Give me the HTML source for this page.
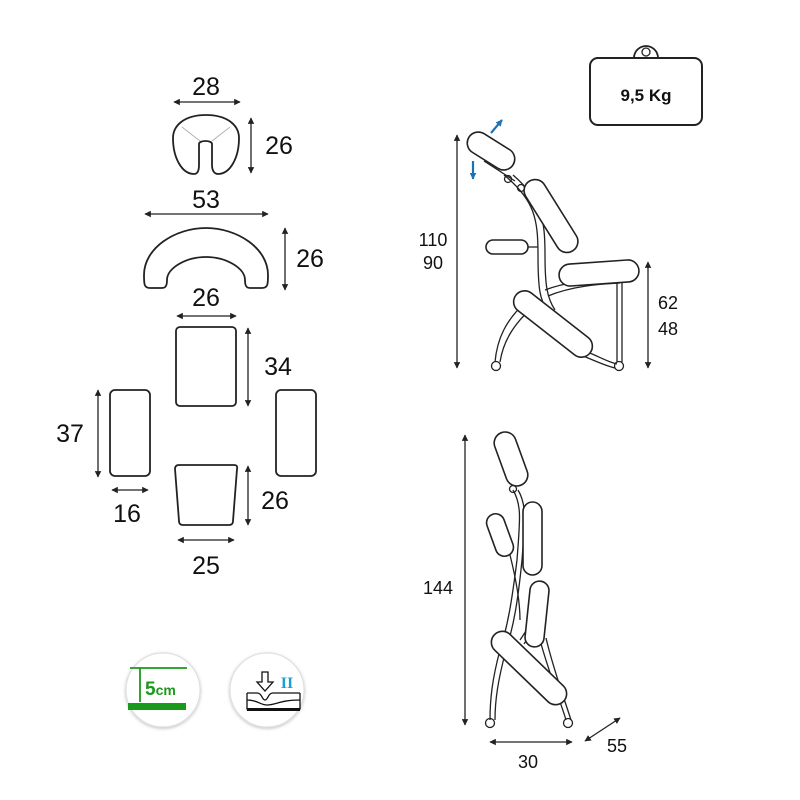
<!DOCTYPE html>
<html><head><meta charset="utf-8"><style>
html,body{margin:0;padding:0;background:#fff;}
svg{display:block;}
text{font-family:"Liberation Sans",sans-serif;fill:#111;}
</style></head><body>
<svg width="800" height="800" viewBox="0 0 800 800" xmlns="http://www.w3.org/2000/svg">
<defs>
<marker id="a" viewBox="0 0 10 10" refX="9" refY="5" markerWidth="5" markerHeight="5" orient="auto-start-reverse"><path d="M0,0 L10,5 L0,10 z" fill="#222"/></marker>
<marker id="b" viewBox="0 0 10 10" refX="9" refY="5" markerWidth="3" markerHeight="3" orient="auto"><path d="M0,0 L10,5 L0,10 z" fill="#1a72b8"/></marker>
<filter id="sh" x="-20%" y="-20%" width="140%" height="140%"><feDropShadow dx="0" dy="1" stdDeviation="1.5" flood-color="#000" flood-opacity="0.25"/></filter>
</defs>
<g stroke="#222" stroke-width="1.3" fill="none">
<line x1="174" y1="102" x2="240" y2="102" marker-start="url(#a)" marker-end="url(#a)"/>
<line x1="251" y1="118" x2="251" y2="173" marker-start="url(#a)" marker-end="url(#a)"/>
<line x1="145" y1="214" x2="268" y2="214" marker-start="url(#a)" marker-end="url(#a)"/>
<line x1="285" y1="228" x2="285" y2="290" marker-start="url(#a)" marker-end="url(#a)"/>
<line x1="177" y1="316" x2="236" y2="316" marker-start="url(#a)" marker-end="url(#a)"/>
<line x1="248" y1="328" x2="248" y2="406" marker-start="url(#a)" marker-end="url(#a)"/>
<line x1="98" y1="390" x2="98" y2="477" marker-start="url(#a)" marker-end="url(#a)"/>
<line x1="112" y1="490" x2="148" y2="490" marker-start="url(#a)" marker-end="url(#a)"/>
<line x1="248" y1="466" x2="248" y2="525" marker-start="url(#a)" marker-end="url(#a)"/>
<line x1="178" y1="540" x2="234" y2="540" marker-start="url(#a)" marker-end="url(#a)"/>
<path d="M206,115 C185,115 173,125 173,138 C173,158 182,174 194,174 C198,174 199,170 199,165 L199,144 C199,140 212,140 212,144 L212,165 C212,170 214,174 218,174 C230,174 239,158 239,138 C239,125 227,115 206,115 Z" stroke-width="1.8"/>
<path d="M182,127 L200,141 M230,127 L212,141" stroke="#aaa" stroke-width="0.8"/>
<path d="M150,288 C144,288 144,284 144,275 C144,248 175,228 206,228 C237,228 268,248 268,275 C268,284 268,288 262,288 L250,288 C246,288 245,285 245,280 C245,268 226,257 206,257 C186,257 167,268 167,280 C167,285 166,288 162,288 Z" stroke-width="1.8"/>
<rect x="176" y="327" width="60" height="79" rx="4" stroke-width="1.8"/>
<rect x="110" y="390" width="40" height="86" rx="5" stroke-width="1.8"/>
<rect x="276" y="390" width="40" height="86" rx="5" stroke-width="1.8"/>
<path d="M179,465 L234,465 Q238,465 237,469 L233,521 Q233,525 229,525 L183,525 Q179,525 179,521 L175,469 Q175,465 179,465 Z" stroke-width="1.8"/>

<path d="M634,58 A12,12 0 0 1 658,58" stroke-width="1.8"/>
<circle cx="646" cy="52" r="4" stroke-width="1.3"/>
<rect x="590" y="58" width="112" height="67" rx="8" stroke-width="2"/>

<line x1="457" y1="135" x2="457" y2="368" marker-start="url(#a)" marker-end="url(#a)"/>
<line x1="648" y1="262" x2="648" y2="368" marker-start="url(#a)" marker-end="url(#a)"/>
<path d="M484,161 L515,181" />
<path d="M504,175 C535,200 538,220 538,255 C538,290 540,300 548,312" />
<path d="M513,175 C542,200 545,220 545,255 C545,285 547,298 555,310" />
<path d="M528,247 L538,247"/>
<path d="M528,300 C505,320 497,340 495,362"/>
<path d="M535,305 C512,325 503,343 500,362"/>
<path d="M545,290 C570,280 600,280 624,278"/>
<path d="M548,296 C572,286 600,284 620,283"/>
<line x1="617" y1="282" x2="617" y2="362"/><line x1="622" y1="280" x2="622" y2="362"/>
<path d="M585,351 C600,357 608,362 617,364"/>
<path d="M583,356 C598,362 606,366 615,368"/>
<circle cx="496" cy="366" r="4.5"/><circle cx="619" cy="366" r="4.5"/>
<circle cx="508" cy="179" r="3.5"/><circle cx="521" cy="188" r="3.5"/>
<g fill="#fff" stroke-width="1.6">
<rect x="-26" y="-11" width="52" height="22" rx="11" transform="translate(491,151) rotate(32)"/>
<rect x="-41" y="-11" width="82" height="22" rx="11" transform="translate(551,216) rotate(58)"/>
<rect x="486" y="240" width="42" height="14" rx="7"/>
<rect x="-40" y="-11" width="80" height="22" rx="11" transform="translate(599,273) rotate(-4)"/>
<rect x="-47" y="-11" width="94" height="22" rx="11" transform="translate(553,324) rotate(38)"/>
</g>

<line x1="465" y1="435" x2="465" y2="725" marker-start="url(#a)" marker-end="url(#a)"/>
<line x1="490" y1="742" x2="572" y2="742" marker-start="url(#a)" marker-end="url(#a)"/>
<line x1="585" y1="741" x2="620" y2="718" marker-start="url(#a)" marker-end="url(#a)"/>
<path d="M513,490 C522,505 520,520 517,560 C512,600 508,625 500,650 C492,680 490,700 490,720"/>
<path d="M518,490 C527,505 525,520 522,560 C518,600 514,625 506,650 C498,680 495,700 495,720"/>
<path d="M510,555 C515,575 520,600 520,620"/>
<path d="M520,640 L528,628 M524,644 L532,632"/>
<path d="M540,640 C548,670 560,700 566,720"/>
<path d="M546,638 C553,668 564,698 571,720"/>
<circle cx="490" cy="723" r="4.5"/><circle cx="568" cy="723" r="4.5"/>
<circle cx="513" cy="489" r="3.5"/>
<g fill="#fff" stroke-width="1.6">
<rect x="-28" y="-11" width="56" height="22" rx="11" transform="translate(511,459) rotate(70)"/>
<rect x="-22" y="-9" width="44" height="18" rx="9" transform="translate(500,535) rotate(70)"/>
<rect x="523" y="502" width="19" height="73" rx="9.5"/>
<rect x="-9.5" y="-33" width="19" height="66" rx="9.5" transform="translate(537,614) rotate(6)"/>
<rect x="-48" y="-11" width="96" height="22" rx="11" transform="translate(529,668) rotate(44)"/>
</g>
</g>
<line x1="491" y1="133" x2="502" y2="120" stroke="#1a72b8" stroke-width="2.2" marker-end="url(#b)"/>
<line x1="473" y1="161" x2="473" y2="179" stroke="#1a72b8" stroke-width="2.2" marker-end="url(#b)"/>

<g font-size="25" text-anchor="middle">
<text x="206" y="95">28</text>
<text x="279" y="154">26</text>
<text x="206" y="208">53</text>
<text x="310" y="267">26</text>
<text x="206" y="306">26</text>
<text x="278" y="375">34</text>
<text x="70" y="442">37</text>
<text x="127" y="522">16</text>
<text x="275" y="509">26</text>
<text x="206" y="574">25</text>
</g>
<g font-size="18" text-anchor="middle">
<text x="433" y="246">110</text>
<text x="433" y="269">90</text>
<text x="668" y="309">62</text>
<text x="668" y="335">48</text>
<text x="438" y="594">144</text>
<text x="528" y="768">30</text>
<text x="617" y="752">55</text>
</g>
<text x="646" y="101" font-size="17" font-weight="bold" text-anchor="middle">9,5 Kg</text>

<circle cx="163" cy="690" r="37" fill="#fff" stroke="#ddd" stroke-width="1" filter="url(#sh)"/>
<g stroke="#1a9a1a" stroke-width="1.8" fill="none">
<line x1="130" y1="668" x2="187" y2="668"/>
<line x1="140" y1="668" x2="140" y2="702"/>
</g>
<rect x="128" y="703" width="58" height="7" fill="#1a9a1a"/>
<text x="145" y="695" font-size="19" font-weight="bold" style="fill:#1a9a1a">5<tspan font-size="14">cm</tspan></text>
<circle cx="267" cy="690" r="37" fill="#fff" stroke="#ddd" stroke-width="1" filter="url(#sh)"/>
<g stroke="#111" stroke-width="1.3" fill="none">
<path d="M262,672 L262,682 L257,682 L265,691 L273,682 L268,682 L268,672 Z"/>
<path d="M247,693 L257,693 C262,693 262,700 265,700 C268,700 268,693 273,693 L300,693"/>
<path d="M247,693 L247,709 L300,709 L300,693"/>
<path d="M247,700 C258,700 260,705 267,705 C276,705 280,700 300,700"/>
</g>
<rect x="247" y="708" width="53" height="3" fill="#111"/>
<text x="287" y="688" font-size="16" font-weight="bold" text-anchor="middle" style="fill:#1aa0d8;font-family:'Liberation Serif',serif">II</text>
</svg>
</body></html>
